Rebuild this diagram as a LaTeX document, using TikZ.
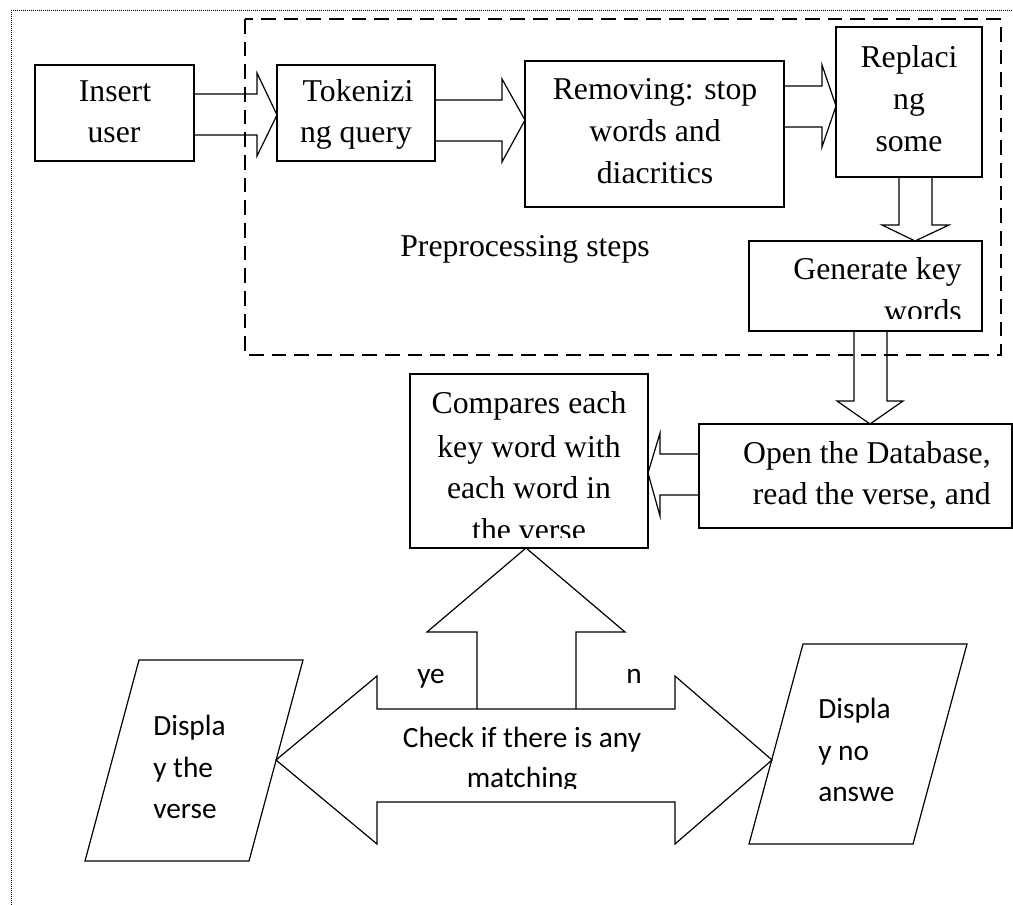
\documentclass[tikz,border=0pt]{standalone}
\usepackage{fontspec}
\setmainfont{Liberation Serif}
\newfontfamily\calibfont{Carlito}

% rectangle node from its corners (pixel-like units)
\newcommand\flowbox[5]{%
  \node[box, minimum width={(#4-#2)*0.75}, minimum height={(#5-#3)*0.75}]
    (#1) at ({(#2+#4)/2},{(#3+#5)/2}) {};}

\begin{document}
\begin{tikzpicture}[x=0.75pt,y=-0.75pt,
  box/.style={draw, line width=0.9pt, inner sep=0pt, outer sep=0pt},
  blockarrow/.style={draw, line width=0.9pt, line join=miter},
  serif/.style={inner sep=0pt, font=\fontsize{23.8}{30}\selectfont},
  sans/.style={inner sep=0pt, font=\calibfont\fontsize{22}{28}\selectfont},
  frameline/.style={line width=0.75pt, dash pattern=on 0.75pt off 0.75pt},
  groupline/.style={line width=0.9pt, dash pattern=on 11pt off 6pt},
]
\useasboundingbox (0,0) rectangle (1013,905);

% outer dotted frame and the preprocessing group
\draw[frameline] (11,905) -- (11,11) -- (1013,11);
\draw[groupline] (245,19) rectangle (1001,355);
\node[serif, anchor=base] (pre) at (525,257) {Preprocessing steps};

% process boxes
\flowbox{ins}{35}{65}{194}{161}
\flowbox{tok}{277}{65}{435}{161}
\flowbox{rem}{525}{61}{784}{207}
\flowbox{rep}{836}{27}{982}{177}
\flowbox{gen}{749}{241}{982}{331}
\flowbox{opn}{699}{424}{1012}{528}
\flowbox{cmp}{410}{374}{648}{548}

% box texts
\node[serif, anchor=base] (ins1) at (115,102) {Insert};
\node[serif, anchor=base] (ins2) at (114,143) {user};
\node[serif, anchor=base] (tok1) at (358,102) {Tokenizi};
\begin{scope}
  \clip (278,66) rectangle (434,150);
  \node[serif, anchor=base] (tok2) at (356,143) {ng query};
\end{scope}
\node[serif, anchor=base] (rem1) at (655,100) {Removing: stop};
\node[serif, anchor=base] (rem2) at (655,142) {words and};
\node[serif, anchor=base] (rem3) at (655,184) {diacritics};
\node[serif, anchor=base] (rep1) at (909,68) {Replaci};
\node[serif, anchor=base] (rep2) at (909,110) {ng};
\node[serif, anchor=base] (rep3) at (909,152) {some};
\node[serif, anchor=base east] (gen1) at (962,280) {Generate key};
\begin{scope}
  \clip (750,242) rectangle (981,319);
  \node[serif, anchor=base east] (gen2) at (962,322) {words};
\end{scope}
\node[serif, anchor=base east] (opn1) at (991,463) {Open the Database,};
\node[serif, anchor=base east] (opn2) at (991,504) {read the verse, and};
\node[serif, anchor=base] (cmp1) at (529,413) {Compares each};
\node[serif, anchor=base] (cmp2) at (529,457) {key word with};
\node[serif, anchor=base] (cmp3) at (529,498) {each word in};
\begin{scope}
  \clip (411,375) rectangle (647,537);
  \node[serif, anchor=base] (cmp4) at (529,540) {the verse};
\end{scope}

% block arrows between the boxes
\draw[blockarrow] (ins.east |- 0,94) -- (257,94) -- (257,73)
  -- (tok.west |- 0,115) -- (257,156) -- (257,135) -- (ins.east |- 0,135);
\draw[blockarrow] (tok.east |- 0,100) -- (502,100) -- (502,79)
  -- (rem.west |- 0,120) -- (502,162) -- (502,141) -- (tok.east |- 0,141);
\draw[blockarrow] (rem.east |- 0,86) -- (822,86) -- (822,65)
  -- (rep.west |- 0,106) -- (822,147) -- (822,127) -- (rem.east |- 0,127);
\draw[blockarrow] (rep.south -| 899,0) -- (899,225) -- (882,225)
  -- (gen.north -| 915,0) -- (949,225) -- (932,225) -- (rep.south -| 932,0);
\draw[blockarrow] (gen.south -| 854,0) -- (854,401) -- (837,401)
  -- (opn.north -| 870,0) -- (903,401) -- (887,401) -- (gen.south -| 887,0);
\draw[blockarrow] (opn.west |- 0,454) -- (660,454) -- (660,433)
  -- (cmp.east |- 0,473) -- (660,516) -- (660,495) -- (opn.west |- 0,495);

% output parallelograms
\draw[line width=0.9pt] (139,660) -- (303,660) -- (249,861) -- (85,861) -- cycle;
\draw[line width=0.9pt] (803,644) -- (967,644) -- (913,844) -- (749,844) -- cycle;
\coordinate (outL) at (276,760);
\coordinate (outR) at (772,760);

% decision: double-headed arrow with the upward arrow on top
\draw[blockarrow] (377,709) -- (377,676) -- (outL) -- (377,844) -- (377,802)
  -- (675,802) -- (675,844) -- (outR) -- (675,676) -- (675,709) -- cycle;
\draw[blockarrow] (477,709) -- (477,632) -- (427,632) -- (cmp.south -| 526,0)
  -- (625,632) -- (576,632) -- (576,709);

\node[sans, anchor=base west] (yes) at (417,683) {ye};
\node[sans, anchor=base west] (no) at (626,683) {n};
\node[sans, anchor=base] (chk1) at (522,747) {Check if there is any};
\begin{scope}
  \clip (380,710) rectangle (672,788);
  \node[sans, anchor=base] (chk2) at (522,787) {matching};
\end{scope}

\node[sans, anchor=base west] (dl1) at (153,735) {Displa};
\node[sans, anchor=base west] (dl2) at (153,777) {y the};
\node[sans, anchor=base west] (dl3) at (153,818) {verse};
\node[sans, anchor=base west] (dr1) at (818,718) {Displa};
\node[sans, anchor=base west] (dr2) at (818,760) {y no};
\node[sans, anchor=base west] (dr3) at (818,801) {answe};
\end{tikzpicture}
\end{document}
